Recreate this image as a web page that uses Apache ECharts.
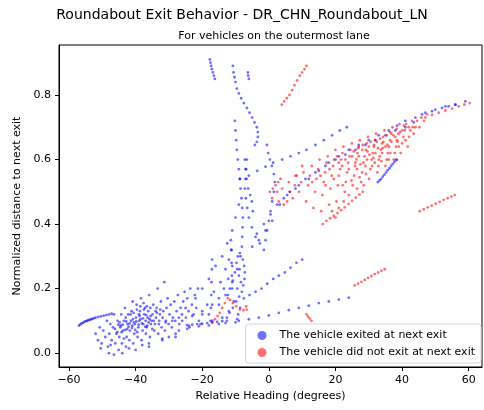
<!DOCTYPE html>
<html>
<head>
<meta charset="utf-8">
<script src="https://cdn.jsdelivr.net/npm/echarts@6/dist/echarts.min.js"></script>
<style>html,body{margin:0;padding:0;background:#fff}#chart{width:484px;height:410px}</style>
</head>
<body>
<div id="chart"></div>
<script>
var xTicks = [-60, -40, -20, 0, 20, 40, 60];
var yTicks = [0, 0.2, 0.4, 0.6, 0.8];

// exited at next exit (blue)
var blueCluster = [
  [-52,0.06],[-51.3,0.04],[-50.8,0.08],[-50.2,0.03],[-49.7,0.07],[-49.1,0.05],[-48.6,0.1],[-48.3,0.02],[-47.9,0.06],[-47.6,0.09],
  [-47.2,0.04],[-46.8,0.08],[-46.5,0.12],[-46.1,0.03],[-45.8,0.06],[-45.4,0.1],[-45.1,0.01],[-44.9,0.05],[-44.6,0.08],[-44.3,0.12],
  [-44.1,0.03],[-43.8,0.07],[-43.5,0.1],[-43.2,0.14],[-42.9,0.02],[-42.7,0.05],[-42.4,0.09],[-42.2,0.12],[-41.9,0.04],[-41.7,0.07],
  [-41.4,0.1],[-41.2,0.13],[-40.9,0.16],[-40.7,0.03],[-40.4,0.06],[-40.2,0.09],[-39.9,0.11],[-39.7,0.15],[-39.4,0.05],[-39.2,0.08],
  [-38.9,0.1],[-38.7,0.13],[-38.4,0.17],[-38.2,0.04],[-37.9,0.07],[-37.7,0.09],[-37.4,0.12],[-37.2,0.14],[-36.9,0.06],[-36.7,0.08],
  [-36.4,0.11],[-36.2,0.13],[-35.9,0.18],[-35.7,0.05],[-35.4,0.09],[-35.2,0.1],[-34.9,0.12],[-34.7,0.15],[-34.4,0.07],[-34.2,0.09],
  [-33.9,0.11],[-33.7,0.14],[-33.4,0.2],[-33.2,0.06],[-32.9,0.1],[-32.7,0.12],[-32.4,0.16],[-32.2,0.08],[-31.9,0.11],[-31.7,0.13],
  [-31.4,0.22],[-31.2,0.07],[-30.9,0.1],[-30.7,0.14],[-30.4,0.17],[-30.1,0.09],[-29.8,0.12],[-29.5,0.15],[-29.1,0.08],[-28.8,0.11],
  [-28.4,0.16],[-28.1,0.1],[-27.7,0.13],[-27.3,0.18],[-26.9,0.09],[-26.5,0.14],[-26.1,0.12],[-25.7,0.16],[-25.3,0.19],[-24.9,0.11],
  [-24.5,0.17],[-24.1,0.13],[-23.6,0.2],[-23.1,0.15],[-22.6,0.12],[-22.2,0.18],[-21.8,0.14],[-21.3,0.2],[-44.5,0.085],[-42.5,0.075],
  [-40.5,0.095],[-38.5,0.105],[-36.5,0.085],[-39.5,0.065],[-41.5,0.12],[-37.5,0.135],[-43.5,0.045],[-45.5,0.065],[-47.5,0.025],[-35.5,0.115],
  [-48,0.0],[-44,0.0],[-40,0.01],[-36,0.02],[-32,0.04],[-28,0.05],[-50.5,0.015],[-46.5,-0.005],[-42,0.015],[-38,0.025],
  [-43,0.11],[-41,0.085],[-39,0.12],[-37,0.1],[-35,0.075],[-33,0.09],[-31,0.095],[-29,0.1],[-27,0.11],[-34,0.13],
  [-44.8,0.095],[-43.9,0.088],[-42.8,0.098],[-41.8,0.092],[-40.8,0.105],[-39.8,0.098],[-38.8,0.115],[-37.8,0.108],[-36.8,0.118],[-35.8,0.105],
  [-44.2,0.065],[-43.1,0.072],[-42.1,0.082],[-41.1,0.078],[-40.1,0.072],[-39.1,0.088],[-38.1,0.092],[-37.1,0.082],[-36.1,0.095],[-34.6,0.1],
  [-46.2,0.075],[-45.2,0.088],[-40.6,0.125],[-39.6,0.135],[-38.6,0.145],[-37.6,0.155],[-36.6,0.145],[-35.6,0.14],[-33.6,0.125],[-32.6,0.135]
];
var blueTail = [
  [-57,0.085],[-56.6,0.089],[-56.2,0.092],[-55.8,0.094],[-55.4,0.097],[-55,0.099],[-54.6,0.1],[-54.2,0.102],[-53.8,0.103],[-53.4,0.105],
  [-53,0.106],[-52.5,0.108],[-52,0.11],[-51.2,0.112],[-50.4,0.114],[-49.6,0.116],[-48.8,0.118],[-48,0.12],[-47.2,0.122]
];
var blueRise = [
  [-30,0.05],[-27,0.07],[-24,0.085],[-21,0.1],[-18,0.12],[-15,0.15],[-13,0.18],[-11,0.22],[-9.5,0.26],[-8.5,0.3],
  [-36,0.03],[-32,0.045],[-28,0.06],[-24.5,0.075],[-20.5,0.09],[-17,0.1],[-14,0.11],[-12,0.13],[-10.5,0.16],[-9.5,0.2],
  [-25,0.14],[-22,0.17],[-20,0.2],[-18,0.23],[-16,0.27],[-14,0.3],[-12.5,0.34],[-11,0.38],[-10,0.42],[-9,0.46],
  [-20,0.12],[-18.5,0.15],[-16.5,0.19],[-14.5,0.22],[-13,0.26],[-12,0.29],[-11.2,0.32],
  [-17.5,0.1],[-17.4,0.14],[-17.3,0.18],[-17.2,0.22],[-17.1,0.26],[-17,0.29],
  [-11,0.2],[-11.1,0.24],[-11.2,0.28],[-11.3,0.32],[-11.4,0.35],
  [-24.6,0.087],[-23,0.088],[-21.5,0.09],[-20,0.091],[-18.5,0.093],[-17,0.095],[-15.5,0.097],[-14,0.099],[-12.6,0.1],
  [-23.8,0.08],[-21,0.083],[-18,0.086],[-15,0.09],[-13,0.093],
  [-26,0.1],[-23,0.115],[-20,0.13],[-17,0.15],[-15,0.17],[-13.5,0.2],[-12.2,0.23],[-11,0.27]
];
var blueLoop = [
  [-12.6,0.11],[-11.8,0.125],[-10.8,0.14],[-9.8,0.16],[-8.9,0.175],[-8.1,0.19],[-7.7,0.21],[-7.3,0.23],[-7.2,0.25],[-7.4,0.27],
  [-7.8,0.29],[-8.7,0.31],[-9.3,0.3],[-9.7,0.28],[-10.2,0.25],[-10.8,0.225],[-11.7,0.2],[-12.3,0.18],[-8.6,0.14],[-9.2,0.12],
  [-9.5,0.105],[-10,0.095],[-8.4,0.22],[-8.8,0.26],[-9,0.24]
];
var blueUp = [
  [-10.2,0.72],[-10,0.69],[-9.8,0.66],[-9.6,0.63],[-9.3,0.6],[-9,0.57],[-8.7,0.54],[-8.5,0.51],[-8.2,0.48],[-8,0.45],
  [-7.8,0.42],[-7.9,0.39],[-8,0.36],[-8.1,0.33],
  [-7.2,0.6],[-7,0.57],[-6.7,0.54],[-6.2,0.51],[-5.6,0.49],[-5.1,0.47],[-4.8,0.44],
  [-10.8,0.89],[-10.6,0.87],[-10.3,0.855],[-10,0.84],[-9.6,0.82],[-9,0.805],[-8.3,0.79],[-7.5,0.775],[-6.6,0.76],[-5.8,0.745],
  [-5,0.73],[-4.3,0.715],[-3.6,0.7],[-3.3,0.685],[-3.3,0.67],[-3.6,0.655],[-4.2,0.645],
  [-17.7,0.91],[-17.5,0.9],[-17.3,0.89],[-17.1,0.88],[-16.8,0.87],[-16.5,0.86],[-16.2,0.85],
  [-6.3,0.87],[-6.2,0.86],[-6,0.85],
  [-0.6,0.645],[-0.2,0.62],[0.3,0.6],[0.9,0.58],[1.5,0.555],[1.8,0.53],[1.5,0.5],[1,0.47],[0.5,0.44],[0,0.41],
  [-0.5,0.38],[-1,0.35],[-1.5,0.32],
  [-6.6,0.6],[-6.8,0.57],[-7,0.54],[-7.2,0.51],[-6.9,0.48],[-6.5,0.45],[-6,0.42],[-5.1,0.39],[-4,0.36],[-2.7,0.34]
];
var blueRight = [
  [-8.7,0.54],[-6,0.55],[-3.5,0.565],[-1,0.578],[1.3,0.59],[4,0.6],[6.5,0.61],[9,0.62],[11.3,0.63],[14,0.645],
  [16.5,0.66],[19,0.675],[21.3,0.69],[23.4,0.7],
  [-3.6,0.37],[-1.5,0.4],[0.5,0.43],[2.5,0.46],[4.5,0.48],[6.3,0.5],[9,0.52],[12,0.54],[15,0.565],[18,0.59],
  [21,0.61],[24,0.63],[27,0.645],[30,0.66],[33,0.675],[36,0.69],[38.5,0.705],[41,0.72],[44,0.73],[47,0.745],
  [50,0.755],[53,0.765],[56,0.77],[59,0.78],
  [-5,0.33],[-3,0.35],[-1,0.38],[1,0.41],[3.3,0.46],[5.5,0.49],[8,0.51],[11,0.54],[14,0.56],[17,0.58],
  [20,0.6],[23,0.615],[26,0.63],[29,0.645],[32,0.66],[35,0.675],[38,0.69],[41,0.7],[43.5,0.715],[46,0.74],
  [49,0.75],[52,0.76],[54,0.765],[56,0.77],
  [32.7,0.53],[33.2,0.535],[33.7,0.54],[34.2,0.547],[34.7,0.553],[35.2,0.56],[35.7,0.567],[36.2,0.573],[36.7,0.58],[37.2,0.586],
  [37.7,0.592],[38.2,0.598],[38.4,0.6],
  [-7.5,0.17],[-5.8,0.18],[-4,0.19],[-2.2,0.2],[-0.5,0.215],[1.3,0.23],[3,0.24],[4.8,0.25],[6.5,0.265],[8.3,0.28],[10,0.29],
  [-9,0.1],[-6,0.105],[-3,0.11],[0,0.117],[3,0.125],[6,0.133],[9,0.14],[12,0.147],[15,0.155],[18,0.16],[21,0.166],[24,0.172]
];
var blueSeries = blueCluster.concat(blueTail, blueRise, blueLoop, blueUp, blueRight);

// did not exit at next exit (red)
var redCluster = [
  [5.5,0.47],[6.3,0.5],[7.2,0.48],[7.8,0.52],[8.4,0.55],[9.1,0.5],[9.7,0.53],[10.4,0.56],[11.2,0.47],[11.8,0.52],
  [12.3,0.55],[12.9,0.58],[13.4,0.45],[13.9,0.5],[14.3,0.54],[14.8,0.57],[15.2,0.6],[15.7,0.44],[16.1,0.49],[16.5,0.53],
  [16.9,0.56],[17.3,0.59],[17.7,0.61],[18.1,0.46],[18.5,0.51],[18.9,0.55],[19.3,0.58],[19.6,0.6],[20,0.63],[20.3,0.47],
  [20.7,0.52],[21,0.55],[21.4,0.57],[21.7,0.6],[22.1,0.62],[22.4,0.64],[22.8,0.5],[23.1,0.53],[23.5,0.56],[23.8,0.59],
  [24.2,0.61],[24.5,0.63],[24.9,0.65],[25.2,0.52],[25.6,0.55],[25.9,0.58],[26.3,0.6],[26.6,0.62],[27,0.64],[27.3,0.66],
  [27.7,0.53],[28,0.56],[28.4,0.59],[28.7,0.61],[29.1,0.63],[29.4,0.65],[29.8,0.67],[30.1,0.54],[30.5,0.57],[30.8,0.6],
  [31.2,0.62],[31.5,0.64],[31.9,0.66],[32.2,0.68],[32.6,0.56],[32.9,0.58],[33.3,0.61],[33.6,0.63],[34,0.65],[34.3,0.67],
  [34.7,0.69],[35,0.58],[35.4,0.6],[35.7,0.62],[36.1,0.64],[36.4,0.66],[36.8,0.68],[37.1,0.7],[37.5,0.6],[37.8,0.62],
  [38.2,0.64],[38.5,0.66],[38.9,0.68],[39.2,0.71],[39.6,0.62],[40,0.65],[40.4,0.67],[40.8,0.69],[41.2,0.71],[41.7,0.64],
  [42.1,0.67],[42.5,0.69],[43,0.72],[43.5,0.68],[44,0.7],[44.5,0.72],[45.2,0.7],[45.8,0.73],[46.6,0.72],[47.5,0.74],
  [26.5,0.57],[29.5,0.6],[31,0.58],[33,0.6],[35,0.64],[28,0.63],[24,0.57],[22,0.58],[19.5,0.54],[17,0.52],
  [36,0.6],[38,0.67],[40,0.69],[42,0.7],[30,0.64],[32,0.62],[34,0.62],[27,0.61],[25,0.61],[21,0.59],
  [1,0.48],[2.5,0.5],[4,0.51],[6,0.53],[8,0.55],[10,0.58],[3,0.47],[4.5,0.46],
  [19,0.44],[20,0.42],[21,0.45],[22.5,0.47],[24,0.49],[26.5,0.51],[28.5,0.52],
  [25.5,0.625],[26.8,0.635],[28.2,0.645],[29.6,0.625],[30.6,0.655],[31.6,0.645],[32.4,0.655],[33.4,0.665],[34.4,0.655],[35.4,0.675],
  [36.4,0.685],[37.4,0.675],[38.4,0.695],[39.4,0.685],[40.6,0.705],[30.2,0.615],[31.4,0.605],[32.8,0.635],[34.2,0.635],[35.6,0.645],
  [36.8,0.655],[38.6,0.655],[29,0.58],[27.5,0.585],[26,0.59],[23,0.6],[20.5,0.61],[18.2,0.57],[15.5,0.55],[13,0.53],
  [33.8,0.595],[36.5,0.62],[39,0.64],[41,0.66],[43.2,0.7],[31.8,0.59],[29.2,0.555],[27.2,0.545],[24.8,0.535],[22.2,0.52]
];
var redLines = [
  [47,0.73],[49,0.738],[51,0.745],[53,0.752],[55,0.758],[57,0.765],[58.7,0.77],[60.3,0.775],
  [3.9,0.77],[4.6,0.78],[5.4,0.79],[6.2,0.8],[7,0.815],[7.7,0.83],[8.5,0.845],[9.3,0.86],[10,0.87],[10.7,0.88],[11.3,0.89],
  [16.2,0.4],[17.3,0.41],[18.4,0.418],[19.5,0.425],[20.6,0.434],[21.7,0.443],[22.8,0.452],[23.9,0.462],[25,0.472],[26.1,0.482],[27.2,0.491],[28.2,0.5],
  [45.3,0.44],[46.5,0.446],[47.7,0.452],[48.9,0.457],[50.1,0.463],[51.3,0.469],[52.5,0.475],[53.7,0.48],[54.8,0.485],[55.8,0.49],
  [25.8,0.21],[26.8,0.215],[27.8,0.221],[28.8,0.227],[29.8,0.233],[30.8,0.239],[31.8,0.245],[32.8,0.25],[33.8,0.255],[34.8,0.26],
  [11.3,0.12],[11.8,0.113],[12.3,0.107],[12.8,0.1],
  [-17,0.095],[-16.2,0.105],[-15.4,0.115],[-14.7,0.125],[-14,0.14],[-13.2,0.155],[-12.3,0.17],[-11.6,0.165],[-10.8,0.155],[-9.8,0.145],
  [-8.7,0.135],[-7.6,0.133],[-6.6,0.135],[-6.8,0.145],
  [0.3,0.5],[1.2,0.51],[2,0.52],[2.8,0.53],[3.5,0.54]
];
var redSeries = redCluster.concat(redLines);

var chart = echarts.init(document.getElementById('chart'));
chart.setOption({
  animation: false,
  title: [
    { text: 'Roundabout Exit Behavior - DR_CHN_Roundabout_LN', left: 'center', top: 3,
      textStyle: { fontFamily: 'DejaVu Sans', fontSize: 14, fontWeight: 'normal', color: '#000' } },
    { text: 'For vehicles on the outermost lane', left: 269, textAlign: 'center', top: 26,
      textStyle: { fontFamily: 'DejaVu Sans', fontSize: 11, fontWeight: 'normal', color: '#000' } }
  ],
  grid: { left: 59, right: 2, top: 45, bottom: 43, show: true, borderColor: '#000', borderWidth: 1 },
  legend: {
    orient: 'vertical', right: 3, bottom: 47,
    data: ['The vehicle exited at next exit', 'The vehicle did not exit at next exit'],
    icon: 'circle', itemWidth: 9, itemHeight: 9, itemGap: 6,
    padding: [6, 6, 5, 12],
    backgroundColor: 'rgba(255,255,255,0.8)', borderColor: '#d5d5d5', borderWidth: 1, borderRadius: 3,
    textStyle: { fontFamily: 'DejaVu Sans', fontSize: 11, color: '#000', padding: [0, 0, 0, 8] }
  },
  xAxis: {
    type: 'value', min: -63, max: 64,
    name: 'Relative Heading (degrees)', nameLocation: 'middle', nameGap: 22,
    nameTextStyle: { fontFamily: 'DejaVu Sans', fontSize: 11, color: '#000' },
    axisLine: { onZero: false, lineStyle: { color: '#000' } },
    axisTick: { show: true, length: 4, lineStyle: { color: '#000' }, customValues: xTicks },
    axisLabel: { fontFamily: 'DejaVu Sans', fontSize: 11, color: '#000', customValues: xTicks,
      formatter: function (v) { return v < 0 ? '\u2212' + (-v) : String(v); } },
    splitLine: { show: false }
  },
  yAxis: {
    type: 'value', min: -0.043, max: 0.955,
    name: 'Normalized distance to next exit', nameLocation: 'middle', nameGap: 36,
    nameTextStyle: { fontFamily: 'DejaVu Sans', fontSize: 11, color: '#000' },
    axisLine: { show: true, onZero: false, lineStyle: { color: '#000' } },
    axisTick: { show: true, length: 4, lineStyle: { color: '#000' }, customValues: yTicks },
    axisLabel: { fontFamily: 'DejaVu Sans', fontSize: 11, color: '#000', customValues: yTicks,
      formatter: function (v) { return v.toFixed(1); } },
    splitLine: { show: false }
  },
  series: [
    { name: 'The vehicle exited at next exit', type: 'scatter', symbolSize: 2.8, data: blueSeries,
      itemStyle: { color: 'rgba(0,0,255,0.7)' } },
    { name: 'The vehicle did not exit at next exit', type: 'scatter', symbolSize: 2.8, data: redSeries,
      itemStyle: { color: 'rgba(255,0,0,0.7)' } }
  ]
});
</script>
</body>
</html>
